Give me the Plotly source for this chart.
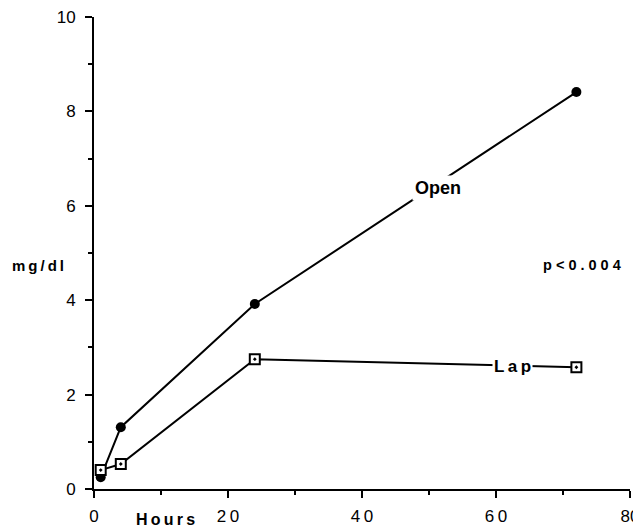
import plotly.graph_objects as go

hours = [1, 4, 24, 72]
open_vals = [0.25, 1.31, 3.92, 8.41]
lap_vals = [0.40, 0.53, 2.75, 2.58]

x_tickvals = [0, 20, 40, 60, 80]
x_ticktext = ["0", "2\u20090", "4\u20090", "6\u20090", "80"]
y_tickvals = [0, 2, 4, 6, 8, 10]
y_ticktext = ["0", "2", "4", "6", "8", "10"]

FONT = "Liberation Sans, Arial, sans-serif"

fig = go.Figure()
fig.add_trace(go.Scatter(
    x=hours, y=open_vals, mode="lines+markers", name="Open",
    line=dict(color="black", width=2),
    marker=dict(symbol="circle", size=10, color="black"),
    cliponaxis=False,
))
fig.add_trace(go.Scatter(
    x=hours, y=lap_vals, mode="lines+markers", name="Lap",
    line=dict(color="black", width=2),
    marker=dict(symbol="square-dot", size=10, color="white",
                line=dict(color="black", width=2)),
    cliponaxis=False,
))

fig.add_annotation(x=51.3, y=6.38, text="<b>Open</b>", showarrow=False,
                   font=dict(family=FONT, size=18, color="black"),
                   bgcolor="white", borderpad=2)
fig.add_annotation(x=62.5, y=2.6, text="<b>L\u2009a\u2009p</b>", showarrow=False,
                   font=dict(family=FONT, size=17, color="black"),
                   bgcolor="white", borderpad=1)
fig.add_annotation(x=72.8, y=4.75, text="<b>p < 0 . 0 0 4</b>", showarrow=False,
                   font=dict(family=FONT, size=14.5, color="black"))
fig.add_annotation(xref="paper", yref="paper", x=-0.104, y=0.474,
                   xanchor="center", yanchor="middle",
                   text="<b>m\u2009g\u2009/\u2009d\u2009l</b>", showarrow=False,
                   font=dict(family=FONT, size=15, color="black"))
fig.add_annotation(xref="paper", yref="paper", x=0.134, y=-0.064,
                   xanchor="center", yanchor="middle",
                   text="<b>H\u2009o\u2009u\u2009r\u2009s</b>", showarrow=False,
                   font=dict(family=FONT, size=16, color="black"))

# page body has an 8px default margin; margins are chosen so the plot area
# lands where the reference has it inside the 641x527 window
fig.update_layout(
    width=641, height=527,
    margin=dict(l=86, r=19, t=9, b=46, autoexpand=False),
    paper_bgcolor="white", plot_bgcolor="white",
    showlegend=False,
    font=dict(family=FONT, size=17, color="black"),
)
fig.update_xaxes(
    range=[0, 80], tickvals=x_tickvals, ticktext=x_ticktext, automargin=False,
    showgrid=False, zeroline=False, showline=True, linecolor="black", linewidth=2,
    ticks="outside", ticklen=7, tickwidth=2, tickcolor="black", ticklabelstandoff=4,
    ticklabeloverflow="allow",
    minor=dict(tickvals=[10, 30, 50, 70], ticks="outside", ticklen=4, tickwidth=2, tickcolor="black"),
    tickfont=dict(size=17),
)
fig.update_yaxes(
    range=[0, 10], tickvals=y_tickvals, ticktext=y_ticktext, automargin=False,
    showgrid=False, zeroline=False, showline=True, linecolor="black", linewidth=2,
    ticks="outside", ticklen=7, tickwidth=2, tickcolor="black", ticklabelstandoff=6,
    ticklabeloverflow="allow",
    minor=dict(tickvals=[1, 3, 5, 7, 9], ticks="outside", ticklen=4, tickwidth=2, tickcolor="black"),
    tickfont=dict(size=17),
)

fig.write_html("out.html")
